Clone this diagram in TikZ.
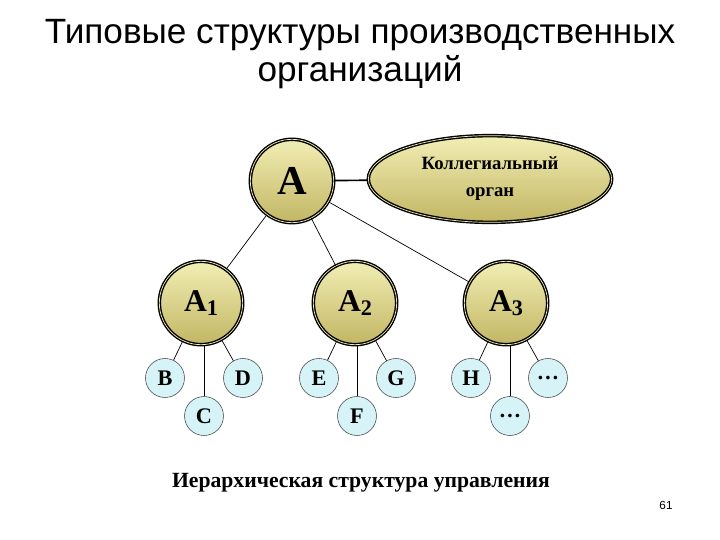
\documentclass[tikz,border=0pt]{standalone}
\usepackage{fontspec}
\setmainfont{Liberation Serif}
\newfontfamily\titlefont{Liberation Sans}
\usetikzlibrary{shapes.geometric, positioning}
\definecolor{goldtop}{RGB}{242,238,180}
\definecolor{goldbot}{RGB}{194,182,100}
\definecolor{cyanfill}{RGB}{214,244,248}
\tikzstyle{chief} = [circle, minimum size=2.5cm, inner sep=0pt, top color=goldtop, bottom color=goldbot, draw=black, line width=1.2pt, double=goldtop, double distance=0.6pt, font=\bfseries\fontsize{35}{35}\selectfont]
\tikzstyle{unit} = [chief, font=\bfseries\fontsize{27}{27}\selectfont]
\tikzstyle{council} = [ellipse, minimum width=7.3cm, minimum height=2.6cm, inner sep=0pt, top color=goldtop, bottom color=goldbot, draw=black, line width=1.2pt, double=goldtop, double distance=0.6pt, align=center, font=\bfseries\fontsize{16}{23}\selectfont]
\tikzstyle{task} = [circle, minimum size=1.17cm, inner sep=0pt, fill=cyanfill, draw=black!70, line width=0.5pt, font=\bfseries\fontsize{19}{19}\selectfont]
\tikzstyle{link} = [line width=0.6pt, black]
\newcommand{\sub}[1]{\raisebox{-0.25ex}{\fontsize{19}{19}\selectfont #1}}

\begin{document}
\begin{tikzpicture}[x=0.03cm, y=-0.03cm]
\useasboundingbox (0,0) rectangle (720,540);
\node (title) [align=center, font=\titlefont\fontsize{30}{33}\selectfont] at (360,54) {Типовые структуры производственных\\организаций};

\node (A) [chief] at (292,181) {A};
\node (board) [council] at (490,179) {Коллегиальный\\орган};
\node (A1) [unit] at (201,303) {A\sub{1}};
\node (A2) [unit] at (355,303) {A\sub{2}};
\node (A3) [unit] at (506,303) {A\sub{3}};

\node (B) [task] at (165,378) {B};
\node (C) [task] at (204,416) {C};
\node (D) [task] at (243,378) {D};
\node (E) [task] at (319,378) {E};
\node (F) [task] at (357,416) {F};
\node (G) [task] at (396,378) {G};
\node (H) [task] at (471,378) {H};
\node (I) [task] at (510,416) {\dots};
\node (J) [task] at (548,378) {\dots};

\draw [link, line width=1.4pt] (A) -- (board);
\draw [link] (A) -- (A1);
\draw [link] (A) -- (A2);
\draw [link] (A) -- (A3);
\draw [link] (A1) -- (B);
\draw [link] (C |- A1.south) -- (C);
\draw [link] (A1) -- (D);
\draw [link] (A2) -- (E);
\draw [link] (F |- A2.south) -- (F);
\draw [link] (A2) -- (G);
\draw [link] (A3) -- (H);
\draw [link] (I |- A3.south) -- (I);
\draw [link] (A3) -- (J);

\node (caption) [font=\bfseries\fontsize{18.5}{18.5}\selectfont] at (361,483) {Иерархическая структура управления};
\node (page) [font=\titlefont\fontsize{10}{10}\selectfont] at (666,505) {61};
\end{tikzpicture}
\end{document}
